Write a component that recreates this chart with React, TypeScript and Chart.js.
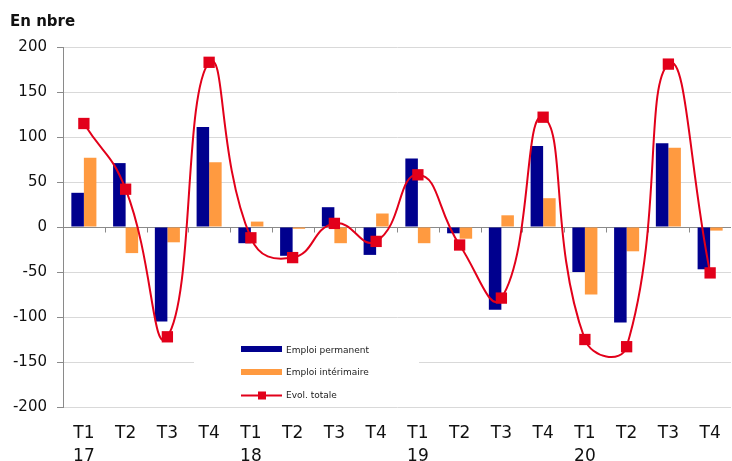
import React, { useEffect, useRef } from "react";
import { Chart, registerables } from "chart.js";

Chart.register(...registerables);

const quarters = ["T1", "T2", "T3", "T4", "T1", "T2", "T3", "T4", "T1", "T2", "T3", "T4", "T1", "T2", "T3", "T4"];
const years = ["17", "", "", "", "18", "", "", "", "19", "", "", "", "20", "", "", ""];
const permanent = [38, 71, -105, 111, -18, -32, 22, -31, 76, -7, -92, 90, -50, -106, 93, -47];
const interim = [77, -29, -17, 72, 6, -2, -18, 15, -18, -13, 13, 32, -75, -27, 88, -4];
const total = [115, 42, -122, 183, -12, -34, 4, -16, 58, -20, -79, 122, -125, -133, 181, -51];
const seriesNames = ["Emploi permanent", "Emploi intérimaire", "Evol. totale"];
const unitLabel = "En nbre";
const yMin = -200;
const yMax = 200;
const yStep = 50;

const BLUE = "#00008E";
const ORANGE = "#FF9A40";
const RED = "#E2001A";
const FONT = "'DejaVu Sans', Verdana, sans-serif";

const extrasPlugin = {
  id: "extras",
  beforeDatasetsDraw(chart: any) {
    const ctx = chart.ctx;
    const x = chart.scales.x;
    const y = chart.scales.y;
    const zeroY = Math.round(y.getPixelForValue(0)) + 0.5;
    const n = quarters.length;
    const half = (x.getPixelForValue(1) - x.getPixelForValue(0)) / 2;
    ctx.save();
    ctx.strokeStyle = "#8a8a8a";
    ctx.lineWidth = 1;
    for (let i = 1; i < n; i++) {
      const px = Math.round(x.getPixelForValue(i) - half) + 0.5;
      ctx.beginPath();
      ctx.moveTo(px, zeroY);
      ctx.lineTo(px, zeroY + 5);
      ctx.stroke();
    }
    ctx.restore();
  },
  afterDraw(chart: any) {
    const ctx = chart.ctx;
    ctx.save();
    ctx.fillStyle = "#111";
    ctx.font = `bold 15px ${FONT}`;
    ctx.textBaseline = "alphabetic";
    ctx.textAlign = "left";
    ctx.fillText(unitLabel, 10, 26);

    ctx.fillStyle = "#ffffff";
    ctx.fillRect(194, 322, 225, 81);
    ctx.fillStyle = BLUE;
    ctx.fillRect(241, 346, 41, 6);
    ctx.fillStyle = ORANGE;
    ctx.fillRect(241, 369, 41, 6);
    ctx.strokeStyle = RED;
    ctx.lineWidth = 2;
    ctx.beginPath();
    ctx.moveTo(241, 395.5);
    ctx.lineTo(282, 395.5);
    ctx.stroke();
    ctx.fillStyle = RED;
    ctx.fillRect(258, 391.5, 8, 8);

    ctx.fillStyle = "#222";
    ctx.font = `9px ${FONT}`;
    ctx.fillText(seriesNames[0], 286, 352.5);
    ctx.fillText(seriesNames[1], 286, 375);
    ctx.fillText(seriesNames[2], 286, 398);
    ctx.restore();
  },
};

export default function App() {
  const ref = useRef<HTMLCanvasElement | null>(null);

  useEffect(() => {
    if (!ref.current) return;
    const labels = quarters.map((q, i) => (years[i] ? [q, years[i]] : q));
    const chart = new Chart(ref.current, {
      type: "bar",
      data: {
        labels,
        datasets: [
          {
            type: "line",
            label: seriesNames[2],
            data: total,
            borderColor: RED,
            backgroundColor: RED,
            borderWidth: 2,
            pointStyle: "rect",
            pointRadius: 8,
            pointBorderWidth: 0,
            pointBackgroundColor: RED,
            tension: 0.5,
            order: 0,
          } as any,
          {
            type: "bar",
            label: seriesNames[0],
            data: permanent,
            backgroundColor: BLUE,
            categoryPercentage: 0.6,
            barPercentage: 1.0,
            order: 1,
          },
          {
            type: "bar",
            label: seriesNames[1],
            data: interim,
            backgroundColor: ORANGE,
            categoryPercentage: 0.6,
            barPercentage: 1.0,
            order: 1,
          },
        ],
      },
      options: {
        animation: false,
        responsive: false,
        devicePixelRatio: 1,
        layout: { autoPadding: false, padding: { top: 47, left: 0, right: 1, bottom: 0 } },
        plugins: {
          legend: { display: false },
          tooltip: { enabled: false },
          title: { display: false },
        },
        scales: {
          x: {
            grid: { display: false, drawTicks: false },
            border: { display: false },
            ticks: {
              color: "#111",
              font: { family: FONT, size: 17, lineHeight: 1.35 },
              padding: 15,
              maxRotation: 0,
              autoSkip: false,
            },
            afterFit: (s: any) => {
              s.height = 54;
              s.paddingLeft = 0;
              s.paddingRight = 0;
            },
          },
          y: {
            min: yMin,
            max: yMax,
            ticks: {
              stepSize: yStep,
              color: "#111",
              font: { family: FONT, size: 15 },
              padding: 10,
            },
            grid: {
              color: (c: any) => (c.tick && c.tick.value === 0 ? "#8a8a8a" : "#d9d9d9"),
              tickColor: "#8a8a8a",
              tickLength: 6,
              lineWidth: 1,
            },
            border: { display: true, color: "#8a8a8a", width: 1 },
            afterFit: (s: any) => {
              s.width = 63;
            },
          },
        },
      },
      plugins: [extrasPlugin],
    });
    return () => chart.destroy();
  }, []);

  return (
    <div style={{ position: "fixed", left: 0, top: 0, width: 732, height: 461, background: "#fff" }}>
      <canvas ref={ref} width={732} height={461} style={{ display: "block", width: 732, height: 461 }} />
    </div>
  );
}
